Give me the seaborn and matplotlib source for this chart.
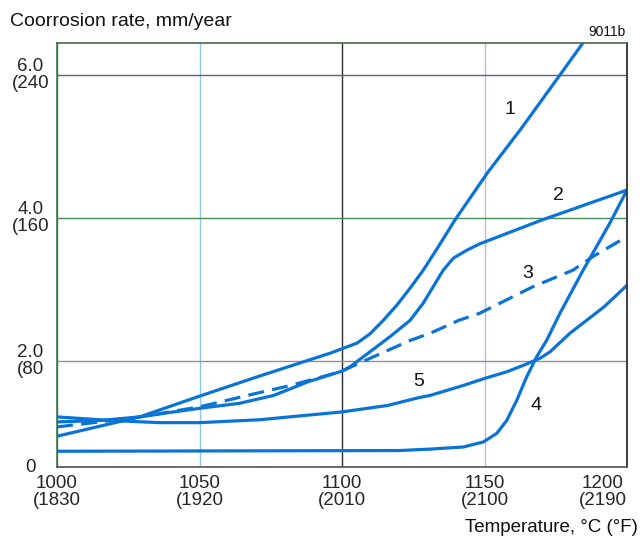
import matplotlib
matplotlib.use("Agg")
import matplotlib.pyplot as plt
import seaborn as sns
import pandas as pd

# ---- data ----
c1_t = [1000, 1015, 1029, 1050, 1071, 1095.8, 1100.5, 1105.2, 1109.8, 1114.5, 1119.2, 1123.9, 1128.5, 1133.5, 1139.6, 1151, 1162.5, 1176.5, 1184.6]
c1_v = [0.95, 1.09, 1.22, 1.51, 1.79, 2.11, 2.18, 2.25, 2.38, 2.57, 2.78, 3.02, 3.27, 3.58, 3.97, 4.63, 5.23, 6.00, 6.45]

c2_t = [1000, 1015, 1029, 1041, 1050, 1064, 1076, 1088, 1100, 1102.8, 1109.8, 1116.8, 1123.9, 1128.5, 1132.0, 1135.5, 1139.1, 1143.8, 1148.4, 1170, 1200]
c2_v = [1.15, 1.17, 1.22, 1.29, 1.34, 1.41, 1.52, 1.71, 1.86, 1.92, 2.13, 2.34, 2.57, 2.81, 3.04, 3.27, 3.44, 3.55, 3.64, 3.97, 4.39]

c3_t = [1000, 1015, 1029, 1041, 1050, 1070, 1082, 1093, 1100, 1111, 1124, 1131, 1141, 1148.4, 1167, 1181, 1188, 1200]
c3_v = [1.08, 1.15, 1.22, 1.30, 1.36, 1.55, 1.66, 1.78, 1.86, 2.06, 2.29, 2.39, 2.57, 2.67, 3.04, 3.27, 3.46, 3.74]

c4_t = [1000, 1120, 1130.9, 1142.6, 1149.6, 1154.3, 1157.8, 1161.3, 1164.8, 1168.3, 1171.8, 1176.5, 1184.6, 1194, 1200]
c4_v = [0.74, 0.75, 0.77, 0.80, 0.87, 0.99, 1.17, 1.45, 1.78, 2.06, 2.29, 2.67, 3.27, 3.93, 4.39]

c5_t = [1000, 1019, 1036, 1050, 1071, 1100, 1116, 1127, 1130.9, 1142.6, 1150.2, 1157.8, 1164.8, 1169.5, 1173, 1180, 1192, 1200]
c5_v = [1.22, 1.17, 1.14, 1.14, 1.18, 1.29, 1.38, 1.49, 1.52, 1.66, 1.76, 1.85, 1.96, 2.04, 2.13, 2.39, 2.76, 3.06]

curve_names = ["1", "2", "3", "4", "5"]
label_t = [1159, 1176, 1165, 1168, 1127]
label_v = [5.51, 4.32, 3.23, 1.38, 1.71]

x_ticks = [1000, 1050, 1100, 1150, 1200]
x_labels = ["1000\n(1830", "1050\n(1920", "1100\n(2010", "1150\n(2100", "1200\n(2190"]
y_bottom = 0.52
y_top = 6.45
y_ticks = [y_bottom, 2.0, 4.0, 6.0]
y_labels = ["0", "2.0\n(80", "4.0\n(160", "6.0\n(240"]

frames = []
for name, t, v in zip(curve_names, [c1_t, c2_t, c3_t, c4_t, c5_t],
                      [c1_v, c2_v, c3_v, c4_v, c5_v]):
    frames.append(pd.DataFrame({"T": t, "rate": v, "curve": name}))
df = pd.concat(frames, ignore_index=True)

sns.set_theme(style="white")
plt.rcParams["font.family"] = ["Liberation Sans", "DejaVu Sans"]

fig = plt.figure(figsize=(6.4, 5.4), dpi=100)
ax = fig.add_axes([57/640, 1-467/540, 570/640, (467-42.7)/540])

blue = "#0a74d6"
sns.lineplot(data=df, x="T", y="rate", hue="curve", style="curve",
             palette={n: blue for n in curve_names},
             dashes={"1": "", "2": "", "3": (5, 2.6), "4": "", "5": ""},
             sort=False, estimator=None, linewidth=2.3, legend=False, ax=ax)
for ln in ax.get_lines():
    ln.set_solid_joinstyle("round")
    ln.set_dash_joinstyle("round")

ax.set_xlim(1000, 1200)
ax.set_ylim(y_bottom, y_top)
ax.set_xticks(x_ticks)
ax.set_xticklabels(x_labels, fontsize=13.5, multialignment="center", linespacing=1.0)
ax.set_yticks(y_ticks)
ax.set_yticklabels(y_labels, fontsize=13.5, multialignment="center", linespacing=1.05, ha="center")
ax.tick_params(axis="x", length=0, pad=6)
ax.tick_params(axis="y", length=0, pad=19)
for lab in ax.get_yticklabels():
    lab.set_verticalalignment("center")
xl = ax.get_xticklabels()
xl[-1].set_horizontalalignment("right")
ax.set_xlabel("")
ax.set_ylabel("")

ax.grid(True)
vcols = ["#3a7a4a", "#8ec8e8", "#2a2a2a", "#c4b4d8", "#222222"]
for gl, c in zip(ax.xaxis.get_gridlines(), vcols):
    gl.set_color(c)
    gl.set_linewidth(1.0)
hcols = ["#555555", "#9a8a9a", "#4a8a5a", "#6a5a72"]
for gl, c in zip(ax.yaxis.get_gridlines(), hcols):
    gl.set_color(c)
    gl.set_linewidth(1.0)
for side, c in {"left": "#3a7a4a", "top": "#4a6a4a", "right": "#222222", "bottom": "#555555"}.items():
    ax.spines[side].set_color(c)
    ax.spines[side].set_linewidth(1.2)
    ax.spines[side].set_visible(True)

for name, t, v in zip(curve_names, label_t, label_v):
    ax.text(t, v, name, fontsize=14, ha="center", va="center", color="#111111")

fig.text(10/640, 1-22/540, "Coorrosion rate, mm/year", fontsize=14, ha="left", va="center", color="#111111")
fig.text(626/640, 1-32/540, "9011b", fontsize=10, ha="right", va="center", color="#111111")
fig.text(638/640, 1-528/540, "Temperature, °C (°F)", fontsize=13.5, ha="right", va="center", color="#111111")

fig.savefig("out.png", dpi=100)
